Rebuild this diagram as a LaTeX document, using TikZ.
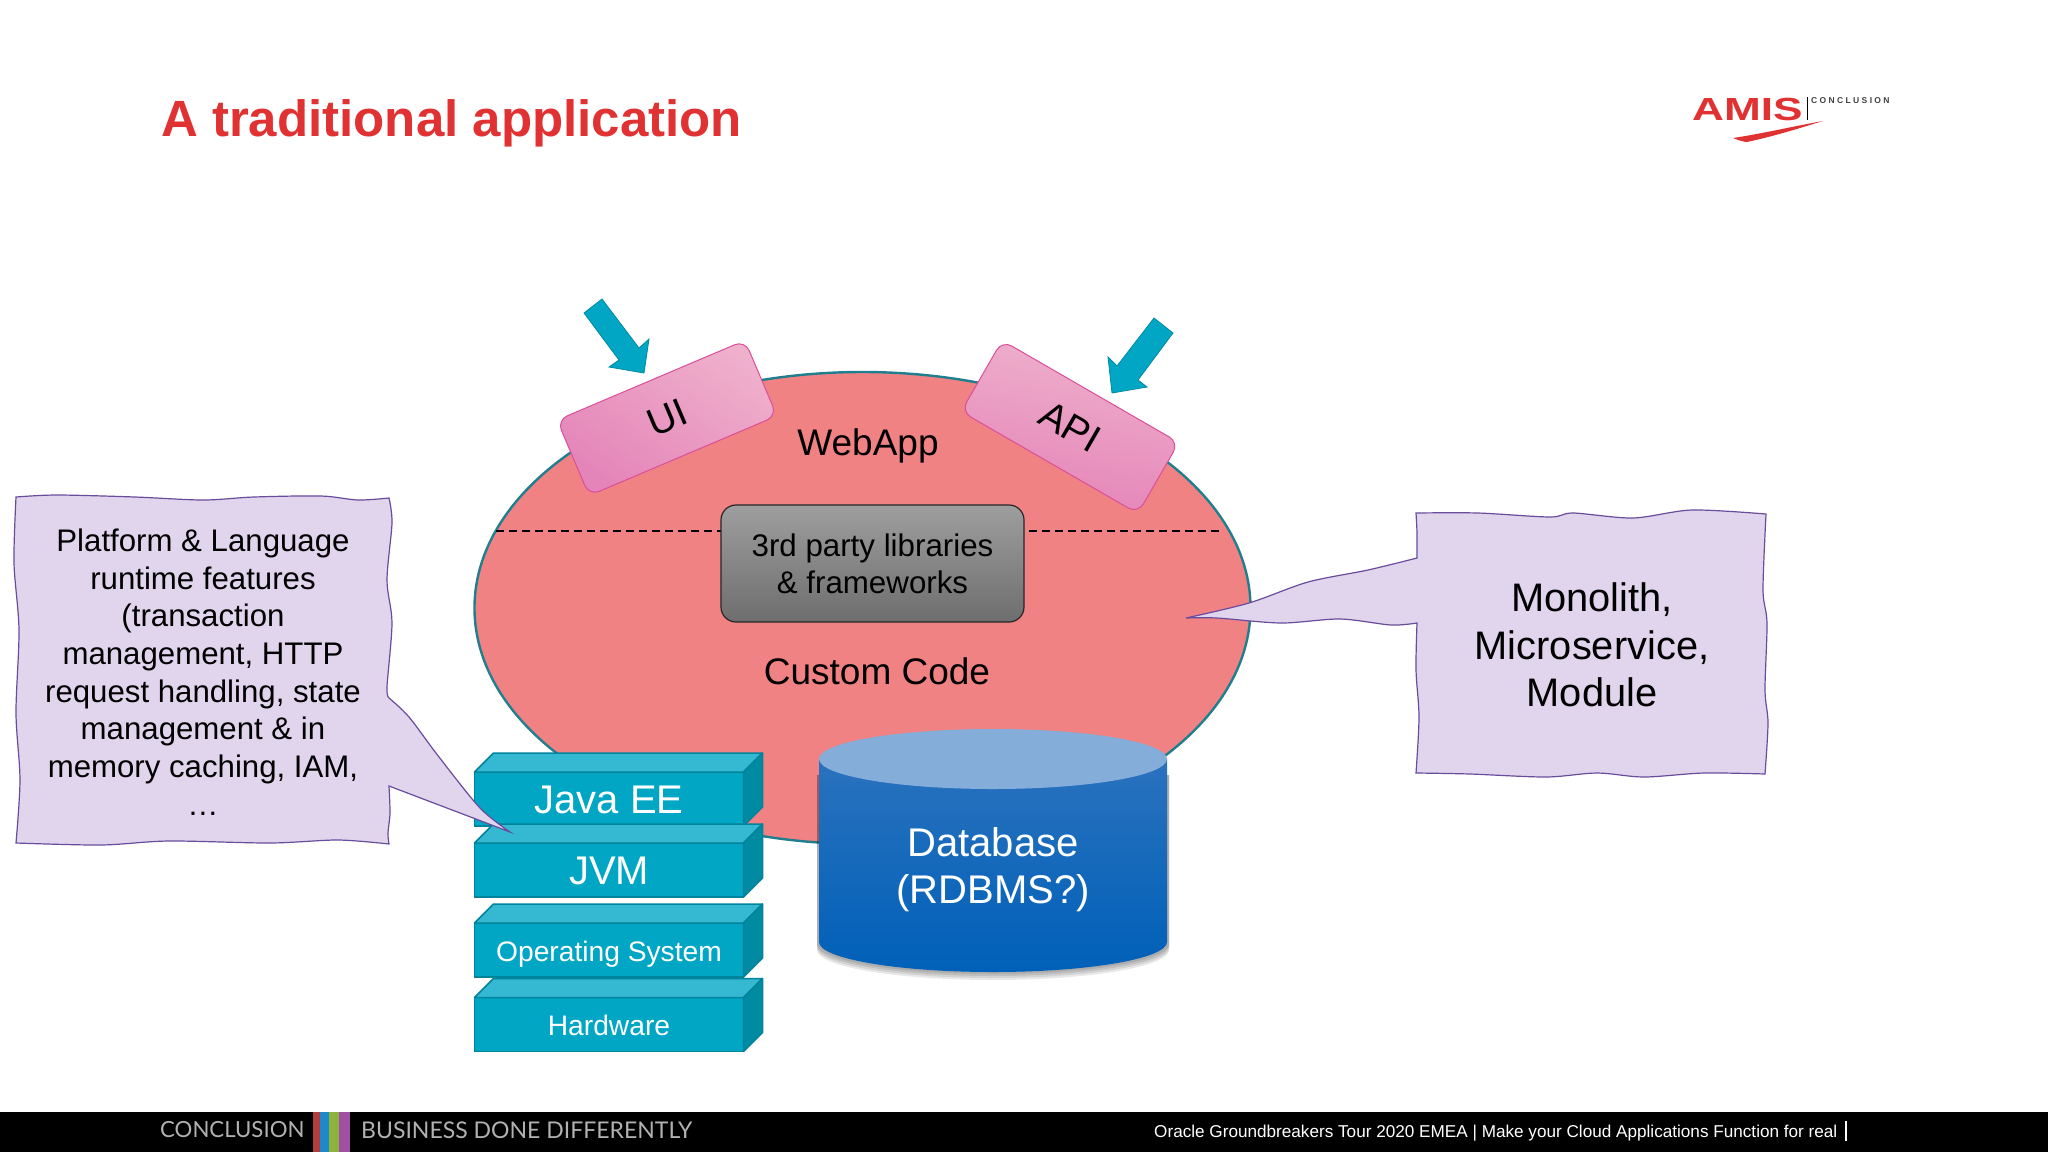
\documentclass[tikz,border=0pt]{standalone}
\usepackage{fontspec}
\setmainfont{Liberation Sans}
\newfontfamily\logofont[FakeStretch=1.38]{Liberation Sans}
\newfontfamily\barfont{Lato}
\usetikzlibrary{shapes.geometric,positioning}
\definecolor{titlered}{HTML}{E03232}
\definecolor{appfill}{HTML}{F08284}
\definecolor{appline}{HTML}{1F7F8E}
\definecolor{tealfront}{HTML}{00A6C4}
\definecolor{tealtop}{HTML}{35B9D3}
\definecolor{tealside}{HTML}{008BA3}
\definecolor{tealline}{HTML}{00849B}
\definecolor{notefill}{HTML}{E0D5EC}
\definecolor{noteline}{HTML}{6A4C9C}
\definecolor{pinkline}{HTML}{DA4F9B}
\definecolor{pinktop}{HTML}{EFB0CC}
\definecolor{pinkbot}{HTML}{E484B8}
\definecolor{dbtop}{HTML}{2A72BE}
\definecolor{dbbottom}{HTML}{0060B8}
\definecolor{dbcap}{HTML}{85ADD9}
\definecolor{stripered}{HTML}{B23C3C}
\definecolor{stripeblue}{HTML}{1E88C8}
\definecolor{stripegreen}{HTML}{8CB43C}
\definecolor{stripeviolet}{HTML}{A050A0}
\tikzset{
	x=1pt,y=-1pt,
	label37/.style = {inner sep=0pt, font=\fontsize{37}{44}\selectfont},
	layer/.style = {rectangle, draw=tealline, fill=tealfront, line width=1.5pt, outer sep=0pt, minimum width=269pt, minimum height=54pt, inner sep=0pt, text=white, text depth=0pt},
	layerbig/.style = {layer, text height=28pt, font=\fontsize{40}{48}\selectfont},
	layersmall/.style = {layer, text height=22.5pt, font=\fontsize{28.2}{36}\selectfont},
	layertop/.style = {draw=tealline, fill=tealtop, line width=1.5pt, line join=round},
	layerside/.style = {draw=tealline, fill=tealside, line width=1.5pt, line join=round},
	iface/.style = {rectangle, rounded corners=11pt, draw=pinkline, line width=1pt, top color=pinktop, bottom color=pinkbot, minimum width=204pt, minimum height=82pt, inner sep=0pt},
	push/.style = {draw=tealside, fill=tealfront, line width=0.8pt, line join=miter},
	note/.style = {draw=noteline, fill=notefill, line width=1.2pt, line join=miter},
	notetext/.style = {align=center, inner sep=0pt}
}
\begin{document}
\begin{tikzpicture}
	\useasboundingbox (0,0) rectangle (2048,1152);
	\fill[white] (0,0) rectangle (2048,1152);
	\node[anchor=base west, inner sep=0pt, text=titlered, font=\fontsize{51}{60}\selectfont\bfseries] (title) at (161,136) {A traditional application};
	
	% logo
	\node[anchor=base west, inner sep=0pt, text=titlered, font=\fontsize{32}{36}\logofont\bfseries] (amis) at (1692,120) {AMIS};
	\coordinate (bartop) at (1807,97);
	\coordinate (barend) at (1807,120);
	\draw[black, line width=0.8pt] (bartop) -- (barend);
	\node[anchor=west, inner sep=0pt, font=\fontsize{8.5}{11}\selectfont\bfseries, text=black!75] (conclusionmark) at (1811,101) {C O N C L U S I O N};
	\fill[titlered] (1823,121) .. controls (1790,127) and (1760,134) .. (1733,138) .. controls (1740,141) and (1745,142) .. (1747,142) .. controls (1775,136) and (1800,128) .. (1823,121) -- cycle;
	
	% webapp
	\node[ellipse, draw=appline, fill=appfill, line width=2.4pt, minimum width=776pt, minimum height=472pt, inner sep=0pt] (webapp) at (862.5,608) {};
	\coordinate (dashl) at (496,531);
	\coordinate (dashr) at (1222,531);
	\draw[dashed, black, line width=1.6pt, dash pattern=on 8pt off 5pt] (dashl) -- (dashr);
	\node[rectangle, rounded corners=15pt, draw=black!85, line width=1.2pt, top color=black!38, bottom color=black!57, minimum width=303pt, minimum height=117pt, inner sep=0pt, align=center, font=\fontsize{31.3}{37}\selectfont] (libs) at (872.5,563.5) {3rd party libraries\\\& frameworks};
	\node[label37] (webtxt) at (868,446) {WebApp};
	\node[label37] (customtxt) at (877,671) {Custom Code};
	
	\node[iface, rotate=23, shading angle=-35, font=\fontsize{39}{44}\selectfont] (ui) at (667,418) {UI};
	\node[iface, rotate=-30, shading angle=-10, font=\fontsize{39}{44}\selectfont] (api) at (1070,427) {API};
	
	\draw[push] (584,313) -- (602,299) -- (639,348) -- (649,339) -- (644,373) -- (609,367) -- (619,360) -- cycle;
	\draw[push] (1154,318) -- (1173,333) -- (1138,380) -- (1147,387) -- (1112,393) -- (1108,357) -- (1117,366) -- cycle;
	
	% stack
	\node[layerbig] (javaee) at (609,799) {Java EE};
	\node[layerbig] (jvm) [below =17pt of javaee] {JVM};
	\node[layersmall] (os) [below =26pt of jvm] {Operating System};
	\node[layersmall] (hw) [below =20.5pt of os] {Hardware};
	\foreach \name in {javaee,jvm,os,hw} {
		\draw[layertop] (\name.north west) -- ++(19,-19) -- ++(269,0) -- (\name.north east) -- cycle;
		\draw[layerside] (\name.north east) -- ++(19,-19) -- ++(0,54) -- (\name.south east) -- cycle;
	}
	
	% database
	\foreach \d in {2,4,6,8}
		\fill[black, opacity=0.09] (817,775) -- (817,{942+\d}) arc[start angle=180, end angle=0, x radius=176, y radius=30] -- (1169,775) -- cycle;
	\shade[top color=dbtop, bottom color=dbbottom] (819,759) -- (819,942) arc[start angle=180, end angle=0, x radius=174, y radius=30] -- (1167,759) -- cycle;
	\fill[dbcap] (993,759) ellipse [x radius=174, y radius=30];
	\node[inner sep=0pt, align=center, text=white, font=\fontsize{40}{47}\selectfont] (db) at (993,870) {Database\\(RDBMS?)};
	
	% notes
	\draw[note] (16,497) plot[smooth] coordinates {(16,497) (57,495) (135,497) (203,500) (254,497) (321,496) (358,500) (389,498)}
		-- plot[smooth] coordinates {(389,498) (392,523) (387,580) (392,623) (387,687) (389,698)}
		-- plot[smooth] coordinates {(389,698) (409,717) (439,757) (480,808) (510,832)}
		-- plot[smooth] coordinates {(510,832) (439,805) (389,786)}
		-- plot[smooth] coordinates {(389,786) (390,813) (388,833) (389,844)}
		-- plot[smooth] coordinates {(389,844) (338,840) (270,843) (169,841) (101,845) (16,843)}
		-- plot[smooth] coordinates {(16,843) (20,780) (16,713) (19,630) (14,563) (16,497)} -- cycle;
	\node[notetext, font=\fontsize{31.2}{37.7}\selectfont] (platform) at (203,672) {Platform \& Language\\runtime features\\(transaction\\management, HTTP\\request handling, state\\management \& in\\memory caching, IAM,\\\dots};
	
	\draw[note] (1416,513) plot[smooth] coordinates {(1416,513) (1478,513) (1550,517) (1573,513) (1633,518) (1692,510) (1766,514)}
		-- plot[smooth] coordinates {(1766,514) (1763,590) (1767,623) (1765,690) (1768,723) (1765,774)}
		-- plot[smooth] coordinates {(1765,774) (1704,773) (1644,777) (1597,773) (1546,777) (1470,774) (1416,773)}
		-- plot[smooth] coordinates {(1416,773) (1419,717) (1416,670) (1417,623)}
		-- plot[smooth] coordinates {(1417,623) (1391,625) (1340,619) (1281,623) (1217,618) (1186,618)}
		-- plot[smooth] coordinates {(1186,618) (1249,603) (1308,582) (1368,570) (1417,558)}
		-- plot[smooth] coordinates {(1417,558) (1417,533) (1416,513)} -- cycle;
	\node[notetext, font=\fontsize{39.8}{47.5}\selectfont] (monolith) at (1592,645) {Monolith,\\Microservice,\\Module};
	
	% footer
	\fill[black] (0,1112) rectangle (2048,1152);
	\fill[stripered] (313,1112) rectangle (320,1152);
	\fill[stripeblue] (320,1112) rectangle (329,1152);
	\fill[stripegreen] (329,1112) rectangle (339,1152);
	\fill[stripeviolet] (339,1112) rectangle (350,1152);
	\node[anchor=west, inner sep=0pt, text=black!30, font=\fontsize{22.2}{25}\barfont] (conclusion) at (160,1130) {CONCLUSION};
	\node[anchor=west, inner sep=0pt, text=black!30, font=\fontsize{23}{25}\barfont] (business) at (361,1130) {BUSINESS DONE DIFFERENTLY};
	\node[anchor=west, inner sep=0pt, text=white, font=\fontsize{17.15}{22}\selectfont] (tour) at (1154,1133) {Oracle Groundbreakers Tour 2020 EMEA | Make your Cloud Applications Function for real};
	\coordinate (tourbartop) at (1846,1121);
	\coordinate (tourbarend) at (1846,1141);
	\draw[white, line width=1.6pt] (tourbartop) -- (tourbarend);
\end{tikzpicture}
\end{document}
